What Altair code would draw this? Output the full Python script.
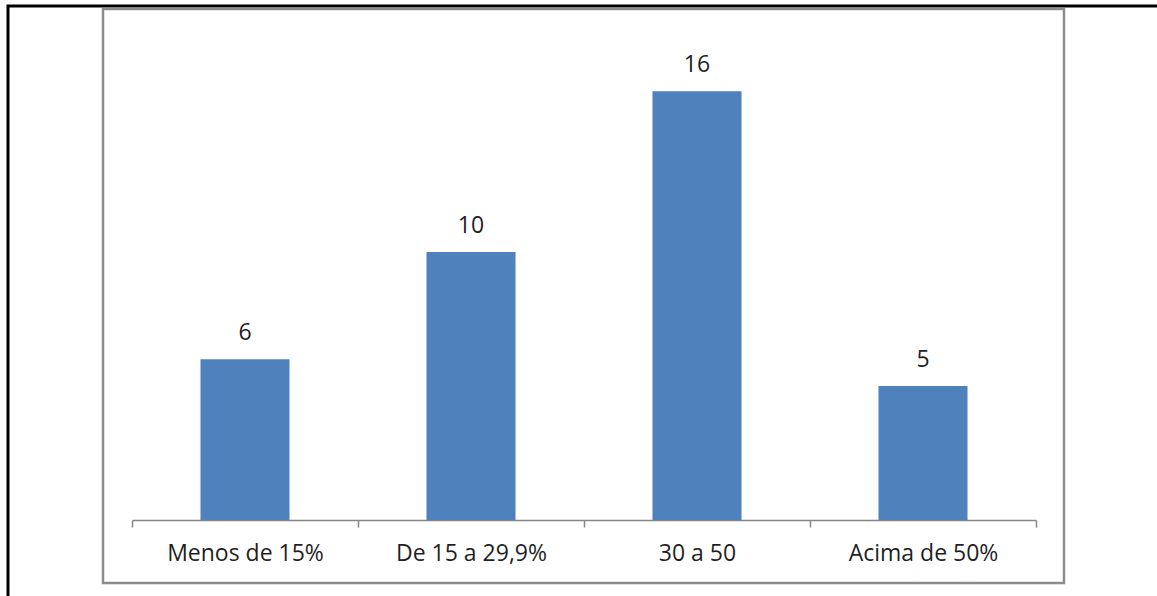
import altair as alt
import pandas as pd

categories = ["Menos de 15%", "De 15 a 29,9%", "30 a 50", "Acima de 50%"]
values = [6, 10, 16, 5]

df = pd.DataFrame({"cat": categories, "val": values})

FONT = "Open Sans"

x_enc = alt.X(
    "cat:N",
    sort=categories,
    title=None,
    scale=alt.Scale(paddingInner=0, paddingOuter=0),
    axis=alt.Axis(
        labelAngle=0,
        labelFontSize=23,
        labelFont=FONT,
        labelColor="#1f1f1f",
        labelPadding=15,
        tickBand="extent",
        tickSize=7,
        tickColor="#868686",
        domainColor="#868686",
        tickWidth=1.5,
        domainWidth=1.5,
        grid=False,
    ),
)
y_enc = alt.Y(
    "val:Q",
    title=None,
    scale=alt.Scale(domain=[0, 19.4], nice=False),
    axis=None,
)

bars = alt.Chart(df).mark_bar(
    color="#4F81BD", width=alt.RelativeBandSize(0.394)
).encode(x=x_enc, y=y_enc)

labels = alt.Chart(df).mark_text(
    baseline="alphabetic", dy=-19, fontSize=23, font=FONT, color="#1f1f1f"
).encode(x=alt.X("cat:N", sort=categories), y="val:Q", text="val:Q")

frame_df = pd.DataFrame({"k": [1]})
inner_box = alt.Chart(frame_df).mark_rect(
    fill="transparent", stroke="#8c8c8c", strokeWidth=2.5
).encode(
    x=alt.value(-29), x2=alt.value(932), y=alt.value(9), y2=alt.value(583)
)
outer_box = alt.Chart(frame_df).mark_rect(
    fill="transparent", stroke="#000000", strokeWidth=3
).encode(
    x=alt.value(-124), x2=alt.value(1030), y=alt.value(6), y2=alt.value(610)
)

chart = (
    alt.layer(outer_box, inner_box, bars, labels)
    .properties(
        width=904,
        height=520,
        padding={"left": 132, "top": 0, "right": 121, "bottom": 76},
        autosize=alt.AutoSizeParams(type="none"),
        background="white",
    )
    .configure_view(strokeWidth=0)
)

chart.save("out.html", embed_options={"renderer": "svg", "actions": False})
